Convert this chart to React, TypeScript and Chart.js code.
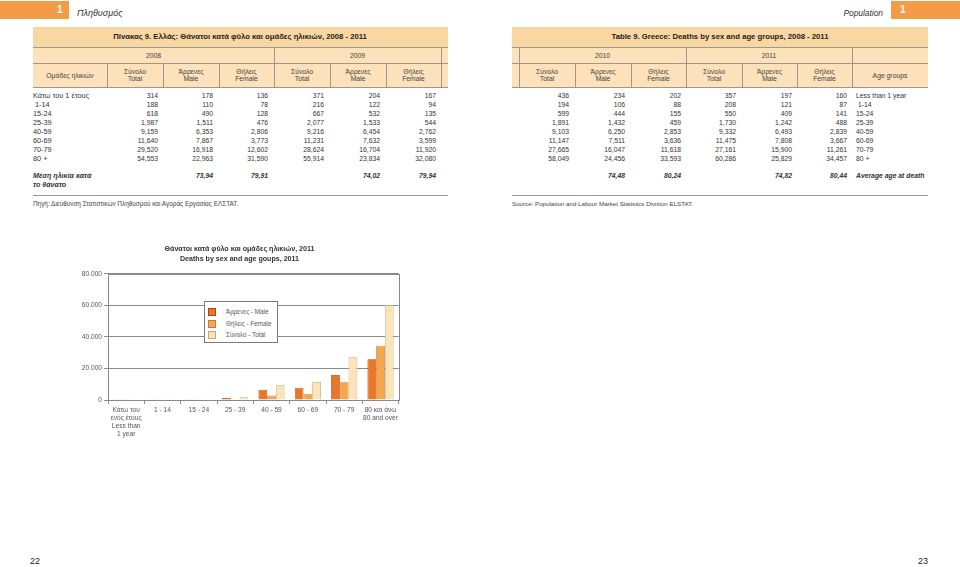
import React, { useEffect, useRef } from "react";
import { Chart, registerables } from "chart.js";
Chart.register(...registerables);

// ---------- data ----------
const ageGroupsGr = ["Κάτω του 1 έτους", " 1-14", "15-24", "25-39", "40-59", "60-69", "70-79", "80 +"];
const ageGroupsEn = ["Less than 1 year", " 1-14", "15-24", "25-39", "40-59", "60-69", "70-79", "80 +"];

const total2008 = [314, 188, 618, 1987, 9159, 11640, 29520, 54553];
const male2008 = [178, 110, 490, 1511, 6353, 7867, 16918, 22963];
const female2008 = [136, 78, 128, 476, 2806, 3773, 12602, 31590];
const total2009 = [371, 216, 667, 2077, 9216, 11231, 28624, 55914];
const male2009 = [204, 122, 532, 1533, 6454, 7632, 16704, 23834];
const female2009 = [167, 94, 135, 544, 2762, 3599, 11920, 32080];
const total2010 = [436, 194, 599, 1891, 9103, 11147, 27665, 58049];
const male2010 = [234, 106, 444, 1432, 6250, 7511, 16047, 24456];
const female2010 = [202, 88, 155, 459, 2853, 3636, 11618, 33593];
const total2011 = [357, 208, 550, 1730, 9332, 11475, 27161, 60286];
const male2011 = [197, 121, 409, 1242, 6493, 7808, 15900, 25829];
const female2011 = [160, 87, 141, 488, 2839, 3667, 11261, 34457];

const avgMale = [73.94, 74.02, 74.48, 74.82];
const avgFemale = [79.91, 79.94, 80.24, 80.44];

const chartCategories: (string | string[])[] = [
  ["Κάτω του", "ενός έτους", "Less than", "1 year"],
  "1 - 14",
  "15 - 24",
  "25 - 39",
  "40 - 59",
  "60 - 69",
  "70 - 79",
  ["80 και άνω", "80 and over"],
];
const seriesLabels = ["Άρρενες - Male", "Θήλεις - Female", "Σύνολο - Total"];
const chartTitle = ["Θάνατοι κατά φύλο και ομάδες ηλικιών, 2011", "Deaths by sex and age goups, 2011"];
const yMax = 80000;
const yStep = 20000;

// ---------- styles ----------
const FONT = "'Liberation Sans', Arial, Helvetica, sans-serif";
const COLORS = ["#EC7527", "#F6A64C", "#FDE3B9"];
const BORDERS = ["#A9470F", "#C87A30", "#C9A678"];
const HEAD_TITLE_BG = "#F9D7A3";
const HEAD_BG = "#FCE1BA";
const LINE = "#9E978E";

const fmtInt = (v: number) => String(v).replace(/\B(?=(\d{3})+(?!\d))/g, ",");
const fmtDot = (v: number) => String(v).replace(/\B(?=(\d{3})+(?!\d))/g, ".");
const fmtAvg = (v: number) => v.toFixed(2).replace(".", ",");

type TProps = {
  x: number; y: number; w?: number; align?: "left" | "right" | "center";
  size?: number; bold?: boolean; italic?: boolean; color?: string; children: React.ReactNode;
};
const T = ({ x, y, w = 80, align = "left", size = 6.8, bold, italic, color = "#333", children }: TProps) => {
  const lh = 10;
  let left = x;
  if (align === "right") left = x - w;
  if (align === "center") left = x - w / 2;
  return (
    <div
      style={{
        position: "absolute", left, top: y - lh / 2, width: w, height: lh, lineHeight: lh + "px",
        fontSize: size, fontWeight: bold ? 700 : 400, fontStyle: italic ? "italic" : "normal",
        color, textAlign: align, whiteSpace: "pre", fontFamily: FONT,
      }}
    >
      {children}
    </div>
  );
};

const Box = ({ x, y, w, h, bg, style }: { x: number; y: number; w: number; h: number; bg?: string; style?: React.CSSProperties }) => (
  <div style={{ position: "absolute", left: x, top: y, width: w, height: h, background: bg, boxSizing: "border-box", ...style }} />
);

const HeadCell = ({ x0, x1, y0, y1, lines, leftLine = true }: { x0: number; x1: number; y0: number; y1: number; lines: string[]; leftLine?: boolean }) => {
  const cy = (y0 + y1) / 2;
  return (
    <>
      {leftLine && <Box x={x0} y={y0} w={1} h={y1 - y0} bg={LINE} />}
      {lines.length === 1 ? (
        <T x={(x0 + x1) / 2} y={cy} w={x1 - x0} align="center" color="#444">{lines[0]}</T>
      ) : (
        <>
          <T x={(x0 + x1) / 2} y={cy - 3.7} w={x1 - x0} align="center" color="#444">{lines[0]}</T>
          <T x={(x0 + x1) / 2} y={cy + 3.7} w={x1 - x0} align="center" color="#444">{lines[1]}</T>
        </>
      )}
    </>
  );
};

const subHeads = [["Σύνολο", "Total"], ["Άρρενες", "Male"], ["Θήλεις", "Female"]];

const ROW_Y0 = 96;
const ROW_DY = 9;

const LeftPage = () => {
  const cols = [107, 163, 219, 274, 330, 386, 441];
  const rightEdges = [158, 213, 268, 324, 380, 436];
  const seriesL = [total2008, male2008, female2008, total2009, male2009, female2009];
  return (
    <>
      <Box x={0} y={1} w={69} h={18} bg="#F39B47" />
      <T x={57} y={10} size={10} bold color="#fff">1</T>
      <T x={77} y={13} size={9} italic color="#333" w={100}>Πληθυσμός</T>

      <Box x={33} y={27} w={415} h={20} bg={HEAD_TITLE_BG} />
      <T x={240} y={37} w={415} align="center" bold size={7.7} color="#222">
        Πίνακας 9. Ελλάς: Θάνατοι κατά φύλο και ομάδες ηλικιών, 2008 - 2011
      </T>
      <Box x={33} y={47} w={415} h={40} bg={HEAD_BG} />
      <Box x={33} y={47} w={415} h={1} bg={LINE} />
      <Box x={33} y={63} w={415} h={1} bg={LINE} />
      <Box x={33} y={87} w={415} h={1} bg={LINE} />
      <HeadCell x0={33} x1={274} y0={48} y1={63} lines={["2008"]} leftLine={false} />
      <HeadCell x0={274} x1={441} y0={48} y1={63} lines={["2009"]} />
      <Box x={441} y={48} w={1} h={39} bg={LINE} />
      <HeadCell x0={33} x1={107} y0={64} y1={87} lines={["Ομάδες ηλικιών"]} leftLine={false} />
      {cols.slice(0, 6).map((c, i) => (
        <HeadCell key={i} x0={c} x1={cols[i + 1]} y0={64} y1={87} lines={subHeads[i % 3]} />
      ))}

      {ageGroupsGr.map((g, r) => (
        <React.Fragment key={r}>
          <T x={33} y={ROW_Y0 + r * ROW_DY} w={90} size={7.3}>{g}</T>
          {seriesL.map((s, c) => (
            <T key={c} x={rightEdges[c]} y={ROW_Y0 + r * ROW_DY} align="right" w={50}>{fmtInt(s[r])}</T>
          ))}
        </React.Fragment>
      ))}
      <T x={33} y={176} w={100} bold italic size={7.1}>Μέση ηλικία κατά</T>
      <T x={33} y={185} w={100} bold italic size={7.1}>το θάνατο</T>
      <T x={rightEdges[1]} y={176} align="right" w={50} bold italic>{fmtAvg(avgMale[0])}</T>
      <T x={rightEdges[2]} y={176} align="right" w={50} bold italic>{fmtAvg(avgFemale[0])}</T>
      <T x={rightEdges[4]} y={176} align="right" w={50} bold italic>{fmtAvg(avgMale[1])}</T>
      <T x={rightEdges[5]} y={176} align="right" w={50} bold italic>{fmtAvg(avgFemale[1])}</T>
      <Box x={33} y={195} w={415} h={1} bg="#999" />
      <T x={33} y={204} w={300} size={6.4} color="#444">
        Πηγή: Διεύθυνση Στατιστικών Πληθυσμού και Αγοράς Εργασίας ΕΛΣΤΑΤ.
      </T>
      <T x={30} y={561} size={9} color="#222" w={30}>22</T>
    </>
  );
};

const RightPage = () => {
  const cols = [519, 575, 631, 686, 742, 797, 852];
  const rightEdges = [569, 625, 681, 736, 792, 847];
  const seriesR = [total2010, male2010, female2010, total2011, male2011, female2011];
  return (
    <>
      <Box x={891} y={1} w={69} h={18} bg="#F39B47" />
      <T x={900} y={10} size={10} bold color="#fff">1</T>
      <T x={883} y={13} size={8.4} italic color="#333" w={100} align="right">Population</T>

      <Box x={512} y={27} w={416} h={20} bg={HEAD_TITLE_BG} />
      <T x={720} y={37} w={416} align="center" bold size={7.7} color="#222">
        Table 9. Greece: Deaths by sex and age groups, 2008 - 2011
      </T>
      <Box x={512} y={47} w={416} h={40} bg={HEAD_BG} />
      <Box x={512} y={47} w={416} h={1} bg={LINE} />
      <Box x={512} y={63} w={416} h={1} bg={LINE} />
      <Box x={512} y={87} w={416} h={1} bg={LINE} />
      <HeadCell x0={519} x1={686} y0={48} y1={63} lines={["2010"]} />
      <HeadCell x0={686} x1={852} y0={48} y1={63} lines={["2011"]} />
      <Box x={852} y={48} w={1} h={15} bg={LINE} />
      {cols.slice(0, 6).map((c, i) => (
        <HeadCell key={i} x0={c} x1={cols[i + 1]} y0={64} y1={87} lines={subHeads[i % 3]} />
      ))}
      <HeadCell x0={852} x1={928} y0={64} y1={87} lines={["Age groups"]} />

      {ageGroupsEn.map((g, r) => (
        <React.Fragment key={r}>
          {seriesR.map((s, c) => (
            <T key={c} x={rightEdges[c]} y={ROW_Y0 + r * ROW_DY} align="right" w={50}>{fmtInt(s[r])}</T>
          ))}
          <T x={856} y={ROW_Y0 + r * ROW_DY} w={90}>{g}</T>
        </React.Fragment>
      ))}
      <T x={rightEdges[1]} y={176} align="right" w={50} bold italic>{fmtAvg(avgMale[2])}</T>
      <T x={rightEdges[2]} y={176} align="right" w={50} bold italic>{fmtAvg(avgFemale[2])}</T>
      <T x={rightEdges[4]} y={176} align="right" w={50} bold italic>{fmtAvg(avgMale[3])}</T>
      <T x={rightEdges[5]} y={176} align="right" w={50} bold italic>{fmtAvg(avgFemale[3])}</T>
      <T x={856} y={176} w={100} bold italic>Average age at death</T>
      <Box x={512} y={195} w={416} h={1} bg="#999" />
      <T x={512} y={204} w={300} size={6.2} color="#444">
        Source: Population and Labour Market Statistics Division ELSTAT.
      </T>
      <T x={918} y={561} size={9} color="#222" w={30}>23</T>
    </>
  );
};

const frame = {
  id: "plotFrame",
  afterDraw(chart: any) {
    const { ctx, chartArea: a } = chart;
    ctx.save();
    ctx.strokeStyle = "#8a8a8a";
    ctx.lineWidth = 1;
    ctx.strokeRect(Math.round(a.left) + 0.5, Math.round(a.top) + 0.5, Math.round(a.right - a.left), Math.round(a.bottom - a.top));
    ctx.restore();
  },
};

const DeathsChart = () => {
  const ref = useRef<HTMLCanvasElement>(null);
  useEffect(() => {
    if (!ref.current) return;
    Chart.defaults.font.family = FONT;
    const chart = new Chart(ref.current, {
      type: "bar",
      data: {
        labels: chartCategories,
        datasets: [male2011, female2011, total2011].map((d, i) => ({
          label: seriesLabels[i],
          data: d,
          backgroundColor: COLORS[i],
          borderColor: BORDERS[i],
          borderWidth: 0.8,
          categoryPercentage: 0.72,
          barPercentage: 1.0,
        })),
      },
      options: {
        animation: false,
        responsive: false,
        maintainAspectRatio: false,
        layout: { padding: { left: 0, right: 1, top: 0, bottom: 0 } },
        plugins: {
          legend: { display: false },
          tooltip: { enabled: false },
          title: {
            display: true,
            text: chartTitle,
            color: "#333",
            font: { size: 7.1, weight: "bold", lineHeight: 1.4 },
            padding: { top: 4, bottom: 10 },
          },
        },
        scales: {
          x: {
            afterFit: (s: any) => { s.height = 45; },
            grid: { offset: true, drawOnChartArea: false, drawTicks: true, tickLength: 4, color: "#8a8a8a" },
            border: { color: "#8a8a8a" },
            ticks: { color: "#555", font: { size: 6.6 }, maxRotation: 0, autoSkip: false, padding: 2 },
          },
          y: {
            min: 0,
            max: yMax,
            afterFit: (s: any) => { s.width = 28; },
            grid: { color: "#8a8a8a", tickLength: 4 },
            border: { color: "#8a8a8a" },
            ticks: { stepSize: yStep, color: "#555", font: { size: 6.6 }, padding: 2, callback: (v: any) => fmtDot(Number(v)) },
          },
        },
      },
      plugins: [frame],
    } as any);
    return () => chart.destroy();
  }, []);
  return (
    <canvas ref={ref} width={320} height={205} style={{ position: "absolute", left: 80, top: 240, width: 320, height: 205 }} />
  );
};

const Legend = () => (
  <div style={{ position: "absolute", left: 204, top: 301, width: 74, height: 42, border: "1px solid #7a7a7a", background: "#fff", boxSizing: "border-box" }}>
    {seriesLabels.map((l, i) => (
      <React.Fragment key={i}>
        <div style={{ position: "absolute", left: 3, top: 6 + i * 11.5, width: 6, height: 6, background: COLORS[i], border: "0.8px solid " + BORDERS[i] }} />
        <div style={{ position: "absolute", left: 21, top: 5 + i * 11.5, fontSize: 6.3, lineHeight: "9px", color: "#555", whiteSpace: "nowrap", fontFamily: FONT }}>{l}</div>
      </React.Fragment>
    ))}
  </div>
);

export default function App() {
  return (
    <div style={{ position: "absolute", left: 0, top: 0, width: 960, height: 567, background: "#fff", overflow: "hidden", fontFamily: FONT }}>
      <LeftPage />
      <RightPage />
      <DeathsChart />
      <Legend />
    </div>
  );
}
